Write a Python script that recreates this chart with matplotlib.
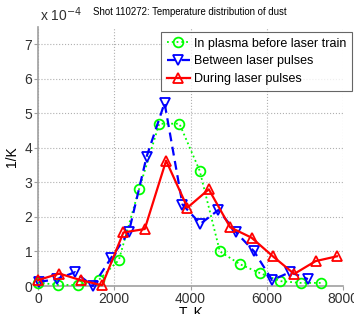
import matplotlib
matplotlib.use("Agg")
import matplotlib.pyplot as plt

# values in units of 1e-4 1/K
plasma_t = [0, 530, 1060, 1590, 2120, 2650, 3180, 3710, 4240, 4770, 5300, 5830, 6360, 6890, 7420]
plasma_v = [0.10, 0.03, 0.03, 0.17, 0.75, 2.80, 4.70, 4.70, 3.34, 1.00, 0.63, 0.37, 0.14, 0.09, 0.09]

between_t = [30, 500, 970, 1440, 1910, 2380, 2850, 3320, 3790, 4260, 4730, 5200, 5670, 6140, 6610, 7080]
between_v = [0.12, 0.20, 0.40, 0.00, 0.80, 1.55, 3.75, 5.30, 2.36, 1.80, 2.20, 1.55, 1.00, 0.17, 0.40, 0.20]

during_t = [0, 560, 1120, 1680, 2240, 2800, 3360, 3920, 4480, 5040, 5600, 6160, 6720, 7280, 7840]
during_v = [0.17, 0.36, 0.17, 0.02, 1.55, 1.65, 3.63, 2.27, 2.80, 1.70, 1.40, 0.86, 0.35, 0.72, 0.86]

plt.rcParams["font.family"] = ["Liberation Sans", "DejaVu Sans"]

fig = plt.figure(figsize=(3.54, 3.14), dpi=100)
ax = fig.add_axes([38 / 354, 1 - 286 / 314, 305 / 354, 259 / 314])

ax.plot(plasma_t, plasma_v, color="#00ff00", ls=":", lw=1.3, marker="o", ms=7,
        mfc="none", mec="#00ff00", mew=1.3, clip_on=False, zorder=3,
        label="In plasma before laser train")
ax.plot(between_t, between_v, color="#0000ff", ls=(0, (4, 2.5)), lw=1.6, marker="v", ms=7,
        mfc="none", mec="#0000ff", mew=1.3, clip_on=False, zorder=4,
        label="Between laser pulses")
ax.plot(during_t, during_v, color="#ff0000", ls="-", lw=1.6, marker="^", ms=7,
        mfc="none", mec="#ff0000", mew=1.3, clip_on=False, zorder=5,
        label="During laser pulses")

ax.set_xlim(0, 8000)
ax.set_ylim(0, 7.5)
ax.set_xticks([0, 2000, 4000, 6000, 8000])
ax.set_yticks(range(8))
ax.grid(True, ls=":", color="#b0b0b0", lw=0.8)
for side in ["top", "right"]:
    ax.spines[side].set_visible(False)
for side in ["left", "bottom"]:
    ax.spines[side].set_color("#a0a0a0")
    ax.spines[side].set_linewidth(1.2)
ax.tick_params(labelsize=10, colors="#303030", length=3, width=0.8, pad=1)
ax.tick_params(axis="both", color="#a0a0a0")

ax.set_xlabel("T, K", fontsize=10, labelpad=0)
ax.set_ylabel("1/K", fontsize=10, labelpad=4)
fig.text(40 / 354, 1 - 15 / 314, r"x 10$^{-4}$", fontsize=10, va="center", color="#303030")
fig.text(190 / 354, 1 - 12 / 314, "Shot 110272: Temperature distribution of dust",
         fontsize=6.9, ha="center", va="center")

leg = ax.legend(loc="upper right", bbox_to_anchor=(352 / 354, 1 - 32 / 314),
                bbox_transform=fig.transFigure, fontsize=9, frameon=True, fancybox=False,
                handlelength=1.9, handletextpad=0.3, borderpad=0.45, labelspacing=0.45,
                borderaxespad=0)
leg.get_frame().set_edgecolor("#404040")
leg.get_frame().set_linewidth(0.8)

fig.savefig("out.png", dpi=100)
